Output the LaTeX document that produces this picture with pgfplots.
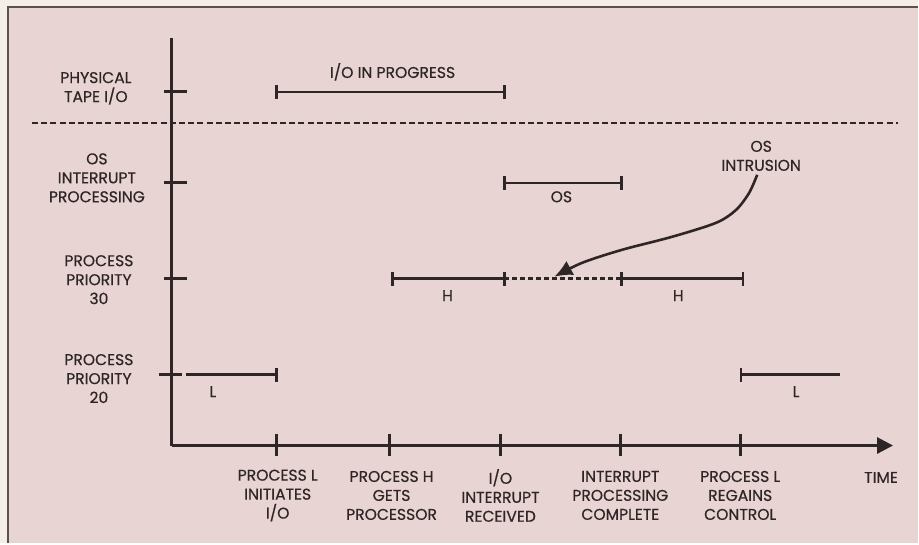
\documentclass[border=0pt]{standalone}
\usepackage{fontspec}
\setmainfont{Poppins}[FakeBold=0.5]
\usepackage{pgfplots}
\pgfplotsset{compat=1.18}
\usetikzlibrary{arrows.meta}
\definecolor{bgpink}{HTML}{E8D4D2}
\definecolor{cream}{HTML}{F4EEE6}
\definecolor{ink}{HTML}{2E2626}
\definecolor{frame}{HTML}{5A5050}
\tikzset{lbl/.style={font=\fontsize{7.8}{9.5}\selectfont, text=ink, align=center, inner sep=0pt}}
\begin{document}
\begin{tikzpicture}
\begin{axis}[
  width=459.5pt, height=272pt, scale only axis,
  xmin=0, xmax=919, ymin=0, ymax=544,
  hide axis, clip=false,
  every axis plot/.append style={color=ink, line width=1.25pt},
]
% background and frame
\fill[cream] (axis cs:0,0) rectangle (axis cs:919,544);
\fill[bgpink] (axis cs:8,0) rectangle (axis cs:919,537);
\draw[frame, line width=1pt] (axis cs:8,0) -- (axis cs:8,537) -- (axis cs:919,537);

% axes
\addplot[line width=1.5pt, mark=none] coordinates {(172,506) (172,98)};
\addplot[line width=1.5pt, mark=none, -{Triangle[length=8pt,width=8pt]}] coordinates {(172,98) (894,98)};
% x ticks
\addplot[line width=1.4pt, mark=none] coordinates {(277,110) (277,87)};
\addplot[line width=1.4pt, mark=none] coordinates {(390,110) (390,87)};
\addplot[line width=1.4pt, mark=none] coordinates {(501,110) (501,87)};
\addplot[line width=1.4pt, mark=none] coordinates {(621,110) (621,87)};
\addplot[line width=1.4pt, mark=none] coordinates {(741,110) (741,87)};
% y ticks
\addplot[line width=1.4pt, mark=none] coordinates {(164,452) (187,452)};
\addplot[line width=1.4pt, mark=none] coordinates {(164,361) (187,361)};
\addplot[line width=1.4pt, mark=none] coordinates {(164,265) (187,265)};
\addplot[line width=1.4pt, mark=none] coordinates {(159,169) (182,169)};

% separator dashed line
\addplot[line width=1pt, dash pattern=on 3pt off 1.6pt, mark=none] coordinates {(32,421) (899,421)};

% physical tape I/O
\addplot[mark=none] coordinates {(277,452) (505,452)};
\addplot[mark=none] coordinates {(277,445) (277,459)};
\addplot[mark=none] coordinates {(505,445) (505,459)};
% OS interrupt processing
\addplot[mark=none] coordinates {(505,361) (622,361)};
\addplot[mark=none] coordinates {(505,354) (505,368)};
\addplot[mark=none] coordinates {(622,354) (622,368)};
% priority 30
\addplot[mark=none] coordinates {(393,265) (505,265)};
\addplot[line width=1.2pt, dash pattern=on 2.5pt off 1.5pt, mark=none] coordinates {(505,265) (622,265)};
\addplot[mark=none] coordinates {(622,265) (744,265)};
\addplot[mark=none] coordinates {(393,258) (393,272)};
\addplot[mark=none] coordinates {(505,258) (505,272)};
\addplot[mark=none] coordinates {(622,258) (622,272)};
\addplot[mark=none] coordinates {(744,258) (744,272)};
% priority 20
\addplot[mark=none] coordinates {(186,169) (277,169)};
\addplot[mark=none] coordinates {(277,162) (277,176)};
\addplot[mark=none] coordinates {(742,169) (841,169)};
\addplot[mark=none] coordinates {(742,162) (742,176)};

% OS intrusion arrow
\addplot[line width=1.3pt, smooth, mark=none, -{Latex[length=9pt,width=8pt]}]
  coordinates {(758,369) (750,351) (737,334) (717,321) (673,307) (623,294) (583,281) (555,267)};

% labels
\node[lbl] at (axis cs:96,455.5) {PHYSICAL\\TAPE I/O};
\node[lbl] at (axis cs:97,366) {OS\\INTERRUPT\\PROCESSING};
\node[lbl] at (axis cs:99,264) {PROCESS\\PRIORITY\\30};
\node[lbl] at (axis cs:99,165) {PROCESS\\PRIORITY\\20};

\node[lbl] at (axis cs:393,472) {I/O IN PROGRESS};
\node[lbl] at (axis cs:562,347) {OS};
\node[lbl] at (axis cs:448,248) {H};
\node[lbl] at (axis cs:679,248) {H};
\node[lbl] at (axis cs:213,152) {L};
\node[lbl] at (axis cs:797,152) {L};
\node[lbl] at (axis cs:762,388) {OS\\INTRUSION};

\node[lbl] at (axis cs:278,48) {PROCESS L\\INITIATES\\I/O};
\node[lbl] at (axis cs:392,48) {PROCESS H\\GETS\\PROCESSOR};
\node[lbl] at (axis cs:501,48) {I/O\\INTERRUPT\\RECEIVED};
\node[lbl] at (axis cs:621,48) {INTERRUPT\\PROCESSING\\COMPLETE};
\node[lbl] at (axis cs:741,48) {PROCESS L\\REGAINS\\CONTROL};
\node[lbl] at (axis cs:882,66) {TIME};
\end{axis}
\end{tikzpicture}
\end{document}
